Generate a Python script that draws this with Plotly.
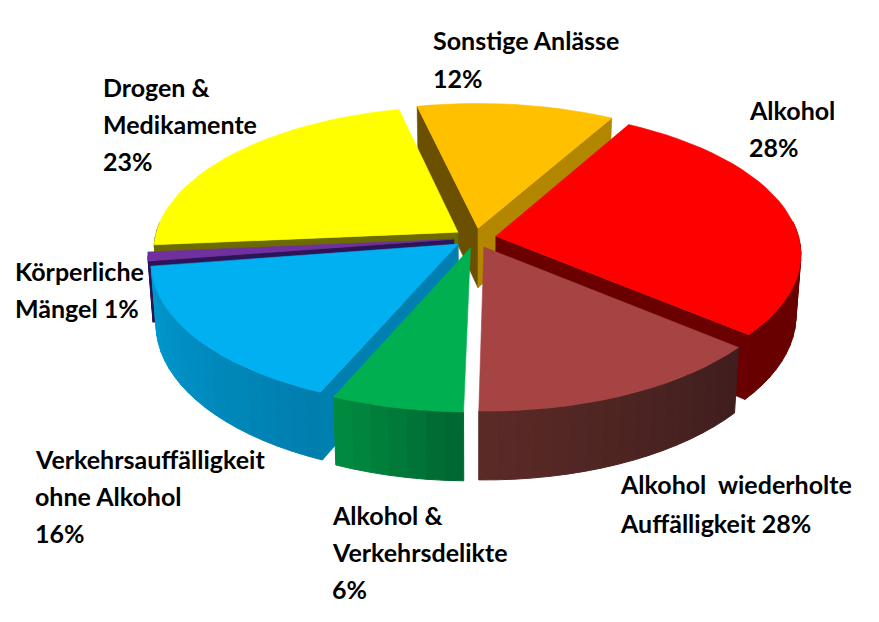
import numpy as np
import plotly.graph_objects as go

# slices clockwise from the Sonstige edge, shares (not the printed labels)
names = ["Sonstige Anlässe", "Alkohol", "Alkohol wiederholte Auffälligkeit", "Alkohol & Verkehrsdelikte",
         "Verkehrsauffälligkeit ohne Alkohol", "Körperliche Mängel", "Drogen & Medikamente"]
shares = [11.8, 27.9, 14.2, 6.2, 16.1, 1.0, 22.8]

label_lines = ["Sonstige Anlässe", "12%", "Alkohol", "28%", "Drogen &", "Medikamente", "23%",
               "Körperliche", "Mängel 1%", "Verkehrsauffälligkeit", "ohne Alkohol", "16%",
               "Alkohol &", "Verkehrsdelikte", "6%", "Alkohol\u00a0 wiederholte", "Auffälligkeit 28%"]
label_x = [434, 434, 750, 750, 104, 104, 104, 16, 16, 36, 36, 36, 333, 333, 333, 621, 621]
label_y = [41, 79, 111, 148, 88, 125, 162, 272, 309, 460, 497, 534, 516, 553, 590, 485, 524]

face_colors = ["#ffc000", "#ff0000", "#a64444", "#00b050", "#00b0f0", "#7030a0", "#ffff00"]
start_wall = ["#6a5000", "#6a0000", "#5a2a26", "#006a32", "#0080b0", "#2c1458", "#6b6b00"]
end_wall = ["#b38600", "#6a0000", "#5a2a26", "#008a40", "#0080b0", "#2c1458", "#6b6b00"]
rim_from = [(106, 80, 0), (110, 0, 0), (64, 30, 30), (0, 104, 50), (0, 126, 174), (44, 20, 88), (107, 107, 0)]
rim_to = [(106, 80, 0), (104, 0, 0), (90, 42, 38), (0, 138, 64), (0, 153, 208), (44, 20, 88), (107, 107, 0)]

# drawing order, back to front
draw_order = [0, 1, 6, 5, 4, 3, 2]

CX, CY = 475, 238
R, RK = 303, 142
PERSP = 0.12
HEIGHT = 60
PULL = 0.07
FIRST_ANGLE = -13


def project(px, py, down=0):
    s = 1 / (1 + PERSP * py)
    x = R * px * s
    y = -RK * py * s
    if down:
        x = x * 0.985
        y = y + HEIGHT * s
    return CX + x, CY + y


def poly(fig, pts, color, width=0.6):
    xs = [p[0] for p in pts] + [pts[0][0]]
    ys = [p[1] for p in pts] + [pts[0][1]]
    fig.add_trace(go.Scatter(x=xs, y=ys, mode="lines", fill="toself", fillcolor=color,
                             line=dict(color=color, width=width), hoverinfo="skip", showlegend=False))


def wall_shows(apex, corner, far):
    # a cut wall shows only when the slice face lies above its top edge on screen
    dx, dy = corner[0] - apex[0], corner[1] - apex[1]
    if abs(dx) < 0.1 * abs(dy):
        return False
    return far[1] < apex[1] + dy / dx * (far[0] - apex[0])


fig = go.Figure()

edges = FIRST_ANGLE + np.cumsum([0] + shares) / sum(shares) * 360

for i in draw_order:
    a0, a1 = edges[i], edges[i + 1]
    mid = np.radians((a0 + a1) / 2)
    ox, oy = PULL * np.sin(mid), PULL * np.cos(mid)
    angles = np.radians(np.linspace(a0, a1, max(int((a1 - a0) / 3), 2) + 1))
    rim = [(ox + np.sin(a), oy + np.cos(a)) for a in angles]
    apex = project(ox, oy)
    far = project(ox + np.sin(mid), oy + np.cos(mid))

    for p, col in [(rim[0], start_wall[i]), (rim[-1], end_wall[i])]:
        if wall_shows(apex, project(*p), far):
            poly(fig, [apex, project(*p), project(*p, 1), project(ox, oy, 1)], col)

    # outer wall in small strips for the shading, only the part facing us
    for k in range(len(rim) - 1):
        if rim[k][1] > 0.1 and rim[k + 1][1] > 0.1:
            continue
        t = k / max(len(rim) - 2, 1)
        c = [round(rim_from[i][n] + (rim_to[i][n] - rim_from[i][n]) * t) for n in range(3)]
        col = "rgb(%d,%d,%d)" % tuple(c)
        poly(fig, [project(*rim[k]), project(*rim[k + 1]), project(*rim[k + 1], 1), project(*rim[k], 1)], col, 1)

    poly(fig, [apex] + [project(*p) for p in rim], face_colors[i])

for text, x, y in zip(label_lines, label_x, label_y):
    fig.add_annotation(x=x, y=y, text=text, showarrow=False, xanchor="left", yanchor="middle",
                       xshift=-3, yshift=1,
                       font=dict(family="Lato", size=25, color="#000000", weight="bold"))

fig.update_layout(width=879, height=622, margin=dict(l=0, r=0, t=0, b=0),
                  paper_bgcolor="white", plot_bgcolor="white",
                  xaxis=dict(range=[0, 879], visible=False),
                  yaxis=dict(range=[622, 0], visible=False))

fig.write_html("out.html", config=dict(displayModeBar=False),
               post_script="document.body.style.margin='0';")
